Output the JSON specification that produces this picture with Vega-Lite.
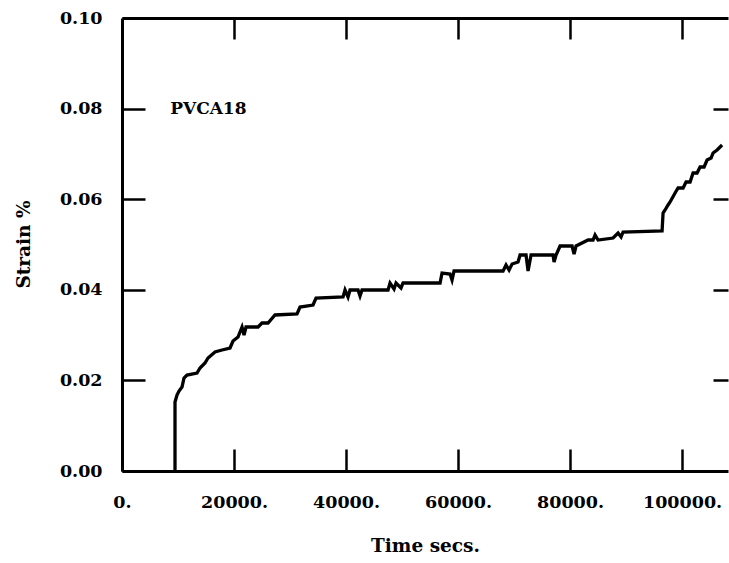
{
  "$schema": "https://vega.github.io/schema/vega-lite/v6.json",
  "width": 606,
  "height": 453,
  "autosize": {"type": "none"},
  "padding": {"left": 122, "top": 18, "right": 1, "bottom": 92},
  "background": "white",
  "config": {"view": {"stroke": null}, "font": "DejaVu Serif"},
  "layer": [
    {
      "data": {"values": [
        {"seq": 1, "time": 9464, "strain": 0.0},
        {"seq": 2, "time": 9464, "strain": 0.01523},
        {"seq": 3, "time": 9821, "strain": 0.01678},
        {"seq": 4, "time": 10179, "strain": 0.01766},
        {"seq": 5, "time": 10714, "strain": 0.01854},
        {"seq": 6, "time": 11071, "strain": 0.02053},
        {"seq": 7, "time": 11607, "strain": 0.02119},
        {"seq": 8, "time": 13393, "strain": 0.02163},
        {"seq": 9, "time": 13929, "strain": 0.02274},
        {"seq": 10, "time": 14821, "strain": 0.02384},
        {"seq": 11, "time": 15357, "strain": 0.02494},
        {"seq": 12, "time": 16607, "strain": 0.02627},
        {"seq": 13, "time": 17857, "strain": 0.02671},
        {"seq": 14, "time": 19286, "strain": 0.02715},
        {"seq": 15, "time": 19821, "strain": 0.0287},
        {"seq": 16, "time": 20714, "strain": 0.02958},
        {"seq": 17, "time": 21429, "strain": 0.03179},
        {"seq": 18, "time": 21786, "strain": 0.03002},
        {"seq": 19, "time": 22143, "strain": 0.03179},
        {"seq": 20, "time": 24286, "strain": 0.03179},
        {"seq": 21, "time": 25000, "strain": 0.03267},
        {"seq": 22, "time": 26071, "strain": 0.03267},
        {"seq": 23, "time": 27321, "strain": 0.03444},
        {"seq": 24, "time": 31250, "strain": 0.03466},
        {"seq": 25, "time": 31786, "strain": 0.0362},
        {"seq": 26, "time": 34107, "strain": 0.03664},
        {"seq": 27, "time": 34643, "strain": 0.03819},
        {"seq": 28, "time": 39464, "strain": 0.03841},
        {"seq": 29, "time": 39821, "strain": 0.03996},
        {"seq": 30, "time": 40357, "strain": 0.03841},
        {"seq": 31, "time": 40714, "strain": 0.03996},
        {"seq": 32, "time": 42143, "strain": 0.03996},
        {"seq": 33, "time": 42500, "strain": 0.03863},
        {"seq": 34, "time": 42857, "strain": 0.03996},
        {"seq": 35, "time": 47500, "strain": 0.03996},
        {"seq": 36, "time": 47857, "strain": 0.0415},
        {"seq": 37, "time": 48571, "strain": 0.04018},
        {"seq": 38, "time": 48929, "strain": 0.0415},
        {"seq": 39, "time": 49821, "strain": 0.0404},
        {"seq": 40, "time": 50179, "strain": 0.0415},
        {"seq": 41, "time": 56786, "strain": 0.0415},
        {"seq": 42, "time": 57143, "strain": 0.04371},
        {"seq": 43, "time": 58571, "strain": 0.04349},
        {"seq": 44, "time": 58929, "strain": 0.04216},
        {"seq": 45, "time": 59286, "strain": 0.04415},
        {"seq": 46, "time": 68036, "strain": 0.04415},
        {"seq": 47, "time": 68571, "strain": 0.04547},
        {"seq": 48, "time": 69107, "strain": 0.04437},
        {"seq": 49, "time": 69643, "strain": 0.0457},
        {"seq": 50, "time": 70714, "strain": 0.04614},
        {"seq": 51, "time": 71071, "strain": 0.04768},
        {"seq": 52, "time": 72143, "strain": 0.04768},
        {"seq": 53, "time": 72500, "strain": 0.04415},
        {"seq": 54, "time": 73036, "strain": 0.04768},
        {"seq": 55, "time": 76964, "strain": 0.04768},
        {"seq": 56, "time": 77143, "strain": 0.04614},
        {"seq": 57, "time": 77500, "strain": 0.04768},
        {"seq": 58, "time": 78214, "strain": 0.04967},
        {"seq": 59, "time": 80357, "strain": 0.04967},
        {"seq": 60, "time": 80714, "strain": 0.0479},
        {"seq": 61, "time": 81071, "strain": 0.04967},
        {"seq": 62, "time": 83214, "strain": 0.05099},
        {"seq": 63, "time": 84107, "strain": 0.05099},
        {"seq": 64, "time": 84464, "strain": 0.0521},
        {"seq": 65, "time": 85000, "strain": 0.05099},
        {"seq": 66, "time": 87679, "strain": 0.05143},
        {"seq": 67, "time": 88571, "strain": 0.05254},
        {"seq": 68, "time": 89107, "strain": 0.05166},
        {"seq": 69, "time": 89464, "strain": 0.05276},
        {"seq": 70, "time": 96429, "strain": 0.05298},
        {"seq": 71, "time": 96607, "strain": 0.05695},
        {"seq": 72, "time": 96964, "strain": 0.05762},
        {"seq": 73, "time": 97500, "strain": 0.05872},
        {"seq": 74, "time": 97857, "strain": 0.05938},
        {"seq": 75, "time": 98750, "strain": 0.06137},
        {"seq": 76, "time": 99286, "strain": 0.06247},
        {"seq": 77, "time": 100179, "strain": 0.06247},
        {"seq": 78, "time": 100714, "strain": 0.0638},
        {"seq": 79, "time": 101429, "strain": 0.0638},
        {"seq": 80, "time": 101964, "strain": 0.06578},
        {"seq": 81, "time": 102679, "strain": 0.06578},
        {"seq": 82, "time": 103214, "strain": 0.06711},
        {"seq": 83, "time": 103929, "strain": 0.06711},
        {"seq": 84, "time": 104464, "strain": 0.06865},
        {"seq": 85, "time": 105179, "strain": 0.06909},
        {"seq": 86, "time": 105536, "strain": 0.0702},
        {"seq": 87, "time": 106250, "strain": 0.07086},
        {"seq": 88, "time": 106786, "strain": 0.07152},
        {"seq": 89, "time": 107143, "strain": 0.07196}
      ]},
      "mark": {"type": "line", "color": "black", "strokeWidth": 3.3},
      "encoding": {
        "x": {
          "field": "time", "type": "quantitative",
          "scale": {"domain": [0, 108200], "nice": false, "zero": false},
          "axis": {
            "orient": "bottom",
            "values": [0, 20000, 40000, 60000, 80000, 100000],
            "labelExpr": "format(datum.value, 'd') + '.'",
            "grid": false,
            "tickSize": -22, "tickWidth": 2.5, "tickColor": "black",
            "domainColor": "black", "domainWidth": 3,
            "labelFont": "DejaVu Serif", "labelFontWeight": "bold", "labelFontSize": 17.5, "labelColor": "black",
            "labelPadding": 44, "labelDx": -5, "labelFlush": false, "labelOverlap": false,
            "title": "Time secs.",
            "titleFont": "DejaVu Serif", "titleFontWeight": "bold", "titleFontSize": 18.5, "titleColor": "black",
            "titleY": 74, "titleBaseline": "middle"
          }
        },
        "y": {
          "field": "strain", "type": "quantitative",
          "scale": {"domain": [0, 0.1], "nice": false, "zero": false},
          "axis": {
            "orient": "left",
            "values": [0, 0.02, 0.04, 0.06, 0.08, 0.1],
            "format": ".2f",
            "grid": false,
            "tickSize": -23, "tickWidth": 2.5, "tickColor": "black",
            "domainColor": "black", "domainWidth": 3,
            "labelFont": "DejaVu Serif", "labelFontWeight": "bold", "labelFontSize": 17.5, "labelColor": "black",
            "labelPadding": 43, "labelFlush": false, "labelOverlap": false,
            "title": "Strain %",
            "titleFont": "DejaVu Serif", "titleFontWeight": "bold", "titleFontSize": 18.5, "titleColor": "black",
            "titleX": -99, "titleY": 226, "titleBaseline": "middle", "titleAngle": -90
          }
        },
        "order": {"field": "seq", "type": "quantitative"}
      }
    },
    {
      "data": {"values": [{"time": 8600, "strain": 0.08, "label": "PVCA18"}]},
      "mark": {"type": "text", "align": "left", "baseline": "middle", "font": "DejaVu Serif", "fontWeight": "bold", "fontSize": 17, "color": "black"},
      "encoding": {
        "x": {
          "field": "time", "type": "quantitative",
          "axis": {
            "orient": "top",
            "values": [20000, 40000, 60000, 80000, 100000],
            "labels": false, "grid": false, "title": null,
            "tickSize": -21, "tickWidth": 2.5, "tickColor": "black",
            "domainColor": "black", "domainWidth": 3
          }
        },
        "y": {
          "field": "strain", "type": "quantitative",
          "axis": {
            "orient": "right",
            "values": [0.02, 0.04, 0.06, 0.08],
            "labels": false, "grid": false, "title": null, "domain": false,
            "tickSize": -15, "tickWidth": 2.5, "tickColor": "black"
          }
        },
        "text": {"field": "label"}
      }
    }
  ],
  "resolve": {"axis": {"x": "independent", "y": "independent"}}
}
